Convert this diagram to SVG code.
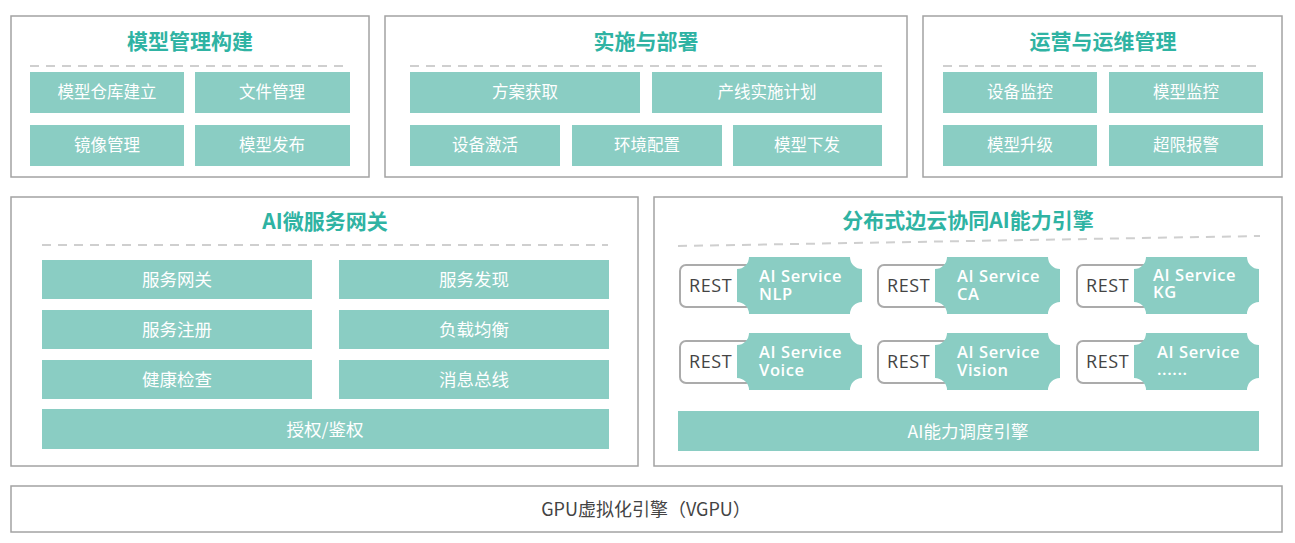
<svg xmlns="http://www.w3.org/2000/svg" width="1295" height="543" viewBox="0 0 1295 543">
<defs>
<style>
.panel{fill:#fff;stroke:#a3a3a3;stroke-width:1.5}
.box{fill:#8acdc3}
.dash{stroke:#cfcfcf;stroke-width:2;stroke-dasharray:9 7;fill:none}
.title{font-family:"Noto Sans CJK SC","Noto Sans",sans-serif;font-size:21px;font-weight:bold;fill:#2fb3a3;text-anchor:middle}
.lbl{font-family:"Noto Sans CJK SC","Noto Sans",sans-serif;font-size:16.5px;fill:#fff;text-anchor:middle}
.lbl2{font-family:"Noto Sans CJK SC","Noto Sans",sans-serif;font-size:17.5px;fill:#fff;text-anchor:middle}
.rest{fill:#fff;stroke:#ababab;stroke-width:2}
.restt{font-family:"Open Sans","Noto Sans",sans-serif;font-size:18px;letter-spacing:0.6px;fill:#444}
.svc{font-family:"Open Sans","Noto Sans",sans-serif;font-size:16.5px;letter-spacing:0.6px;font-weight:600;fill:#fff}
.gpu{font-family:"Noto Sans CJK SC","Noto Sans",sans-serif;font-size:18px;fill:#444;text-anchor:middle}
</style>
<path id="ticket" class="box" d="M12,0 H113 A12 12 0 0 0 125,12 V45 A12 12 0 0 0 113,57 H12 A12 12 0 0 0 0,45 V12 A12 12 0 0 0 12,0 Z"/>
</defs>

<g id="panel-model">
<rect class="panel" x="11" y="16" width="358" height="161"/>
<text class="title" x="190" y="49">模型管理构建</text>
<line class="dash" x1="30" y1="66" x2="350" y2="66"/>
<rect class="box" x="30" y="72" width="154" height="41"/><text class="lbl" x="107" y="98">模型仓库建立</text>
<rect class="box" x="195" y="72" width="155" height="41"/><text class="lbl" x="272" y="98">文件管理</text>
<rect class="box" x="30" y="125" width="154" height="41"/><text class="lbl" x="107" y="151">镜像管理</text>
<rect class="box" x="195" y="125" width="155" height="41"/><text class="lbl" x="272" y="151">模型发布</text>
</g>

<g id="panel-deploy">
<rect class="panel" x="385" y="16" width="522" height="161"/>
<text class="title" x="646" y="49">实施与部署</text>
<line class="dash" x1="410" y1="66" x2="882" y2="66"/>
<rect class="box" x="410" y="72" width="230" height="41"/><text class="lbl" x="525" y="98">方案获取</text>
<rect class="box" x="652" y="72" width="230" height="41"/><text class="lbl" x="767" y="98">产线实施计划</text>
<rect class="box" x="410" y="125" width="150" height="41"/><text class="lbl" x="485" y="151">设备激活</text>
<rect class="box" x="572" y="125" width="150" height="41"/><text class="lbl" x="647" y="151">环境配置</text>
<rect class="box" x="733" y="125" width="149" height="41"/><text class="lbl" x="807" y="151">模型下发</text>
</g>

<g id="panel-ops">
<rect class="panel" x="923" y="16" width="359" height="161"/>
<text class="title" x="1103" y="49">运营与运维管理</text>
<line class="dash" x1="943" y1="66" x2="1263" y2="66"/>
<rect class="box" x="943" y="72" width="154" height="41"/><text class="lbl" x="1020" y="98">设备监控</text>
<rect class="box" x="1109" y="72" width="154" height="41"/><text class="lbl" x="1186" y="98">模型监控</text>
<rect class="box" x="943" y="125" width="154" height="41"/><text class="lbl" x="1020" y="151">模型升级</text>
<rect class="box" x="1109" y="125" width="154" height="41"/><text class="lbl" x="1186" y="151">超限报警</text>
</g>

<g id="panel-gateway">
<rect class="panel" x="11" y="197" width="627" height="269"/>
<text class="title" x="325" y="229">AI微服务网关</text>
<line class="dash" x1="42" y1="245" x2="608" y2="245"/>
<rect class="box" x="42" y="260" width="270" height="39"/><text class="lbl2" x="177" y="286">服务网关</text>
<rect class="box" x="339" y="260" width="270" height="39"/><text class="lbl2" x="474" y="286">服务发现</text>
<rect class="box" x="42" y="310" width="270" height="39"/><text class="lbl2" x="177" y="336">服务注册</text>
<rect class="box" x="339" y="310" width="270" height="39"/><text class="lbl2" x="474" y="336">负载均衡</text>
<rect class="box" x="42" y="360" width="270" height="39"/><text class="lbl2" x="177" y="386">健康检查</text>
<rect class="box" x="339" y="360" width="270" height="39"/><text class="lbl2" x="474" y="386">消息总线</text>
<rect class="box" x="42" y="409" width="567" height="40"/><text class="lbl2" x="325" y="436">授权/鉴权</text>
</g>

<g id="panel-engine">
<rect class="panel" x="654" y="197" width="628" height="269"/>
<text class="title" x="968" y="228">分布式边云协同AI能力引擎</text>
<line class="dash" x1="678" y1="246" x2="1260" y2="236"/>
<g transform="translate(680,257)"><rect class="rest" x="0" y="8" width="72" height="42" rx="6"/><text class="restt" x="9" y="35">REST</text><use href="#ticket" x="57"/><text class="svc" x="79" y="25">AI Service<tspan x="79" dy="18">NLP</tspan></text></g>
<g transform="translate(878,257)"><rect class="rest" x="0" y="8" width="72" height="42" rx="6"/><text class="restt" x="9" y="35">REST</text><use href="#ticket" x="57"/><text class="svc" x="79" y="25">AI Service<tspan x="79" dy="18">CA</tspan></text></g>
<g transform="translate(1077,257)"><rect class="rest" x="0" y="8" width="72" height="42" rx="6"/><text class="restt" x="9" y="35">REST</text><use href="#ticket" x="57"/><text class="svc" x="76" y="24">AI Service<tspan x="76" dy="17">KG</tspan></text></g>
<g transform="translate(680,333)"><rect class="rest" x="0" y="8" width="72" height="42" rx="6"/><text class="restt" x="9" y="35">REST</text><use href="#ticket" x="57"/><text class="svc" x="79" y="25">AI Service<tspan x="79" dy="18">Voice</tspan></text></g>
<g transform="translate(878,333)"><rect class="rest" x="0" y="8" width="72" height="42" rx="6"/><text class="restt" x="9" y="35">REST</text><use href="#ticket" x="57"/><text class="svc" x="79" y="25">AI Service<tspan x="79" dy="18">Vision</tspan></text></g>
<g transform="translate(1077,333)"><rect class="rest" x="0" y="8" width="72" height="42" rx="6"/><text class="restt" x="9" y="35">REST</text><use href="#ticket" x="57"/><text class="svc" x="80" y="25">AI Service<tspan x="80" dy="17">......</tspan></text></g>
<rect class="box" x="678" y="411" width="581" height="40"/><text class="lbl2" x="968" y="438">AI能力调度引擎</text>
</g>

<g id="panel-gpu">
<rect class="panel" x="11" y="486" width="1271" height="46"/>
<text class="gpu" x="646" y="516">GPU虚拟化引擎（VGPU）</text>
</g>

<g id="connectors"></g>
</svg>
